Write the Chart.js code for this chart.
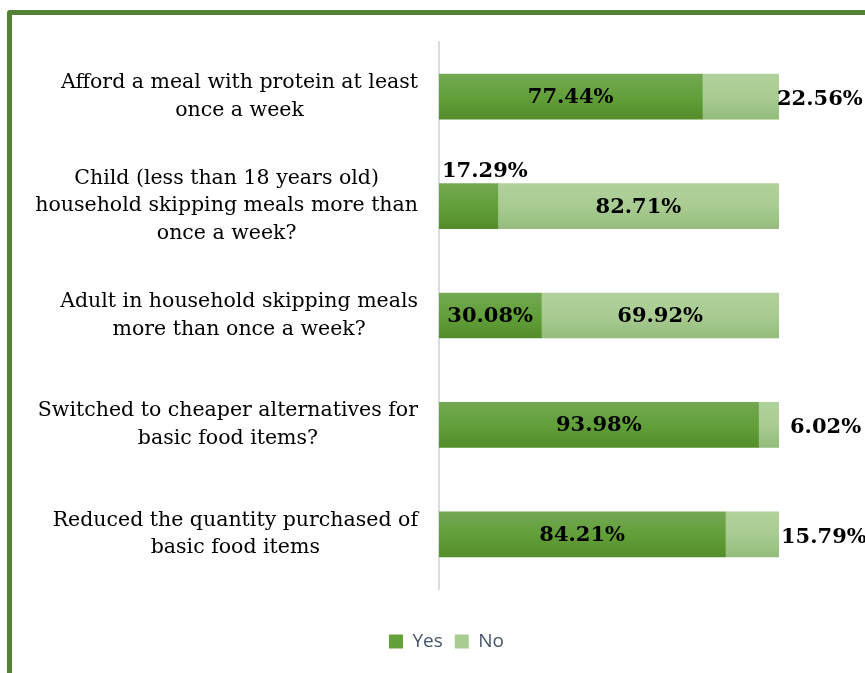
<!DOCTYPE html>
<html>
<head>
<meta charset="utf-8">
<script src="https://cdn.jsdelivr.net/npm/chart.js@4.4.1/dist/chart.umd.min.js"></script>
<style>
  html, body { margin: 0; padding: 0; background: #fff; }
  #wrap { position: relative; width: 865px; height: 673px; overflow: hidden; }
  /* green frame round the chart (only top and left fit on the page) */
  #frame {
    position: absolute; left: 7px; top: 10px; width: 900px; height: 700px;
    border: 5px solid #548235; border-radius: 3px; box-sizing: border-box;
  }
  #chart { position: absolute; left: 0; top: 0; }
</style>
</head>
<body>
<div id="wrap">
  <div id="frame"></div>
  <canvas id="chart" width="865" height="673"></canvas>
</div>
<script>
// categories, one per bar (each entry is the wrapped lines of the label)
const questions = [
  ["Afford a meal with protein at least", "once a week"],
  ["Child (less than 18 years old)", "household skipping meals more than", "once a week?"],
  ["Adult in household skipping meals", "more than once a week?"],
  ["Switched to cheaper alternatives for", "basic food items?"],
  ["Reduced the quantity purchased of", "basic food items"]
];

// share of households answering yes / no (%)
const yes_values = [77.44, 17.29, 30.08, 93.98, 84.21];
const no_values = [22.56, 82.71, 69.92, 6.02, 15.79];

// where each value label sits: "in" the bar, "above" it or "out" past its end
const yes_label_place = ["in", "above", "in", "in", "in"];
const no_label_place = ["out", "in", "in", "out", "out"];
const no_label_gap = [-2, 0, 0, 11, 2];

const yes_color = "#62a03a";
const no_color = "#a9cc92";

const label_font = "'DejaVu Serif', Georgia, serif";

// vertical shading on each bar, lighter at the top
function barGradient(top, mid, bottom) {
  return (context) => {
    const chart = context.chart;
    const yScale = chart.scales.y;
    if (!yScale || context.dataIndex === undefined) return mid;
    const meta = chart.getDatasetMeta(context.datasetIndex);
    const bar = meta.data[context.dataIndex];
    const half = bar && bar.height ? bar.height / 2 : 22.5;
    const cy = yScale.getPixelForValue(context.dataIndex);
    const g = chart.ctx.createLinearGradient(0, cy - half, 0, cy + half);
    g.addColorStop(0, top);
    g.addColorStop(0.5, mid);
    g.addColorStop(1, bottom);
    return g;
  };
}

// category labels: each block right aligned, its lines centred on each other
const categoryLabels = {
  id: "categoryLabels",
  afterDraw(chart) {
    const ctx = chart.ctx;
    const yScale = chart.scales.y;
    const right = chart.chartArea.left - 21;
    const lineHeight = 27.5;
    ctx.save();
    ctx.font = "20.5px " + label_font;
    ctx.fillStyle = "#000";
    ctx.textAlign = "center";
    ctx.textBaseline = "middle";
    questions.forEach((lines, i) => {
      const widest = Math.max(...lines.map((l) => ctx.measureText(l).width));
      const cx = right - widest / 2;
      const cy = yScale.getPixelForTick(i);
      const first = cy - ((lines.length - 1) * lineHeight) / 2;
      lines.forEach((l, j) => ctx.fillText(l, cx, first + j * lineHeight));
    });
    ctx.restore();
  }
};

// percentage labels on the bars
const valueLabels = {
  id: "valueLabels",
  afterDatasetsDraw(chart) {
    const ctx = chart.ctx;
    ctx.save();
    ctx.font = "bold 21px " + label_font;
    ctx.fillStyle = "#000";
    ctx.textBaseline = "middle";
    chart.data.datasets.forEach((ds, d) => {
      const meta = chart.getDatasetMeta(d);
      meta.data.forEach((bar, i) => {
        const text = ds.data[i].toFixed(2) + "%";
        const place = d === 0 ? yes_label_place[i] : no_label_place[i];
        const left = Math.min(bar.x, bar.base);
        const right = Math.max(bar.x, bar.base);
        if (place === "in") {
          ctx.textAlign = "center";
          ctx.fillText(text, (left + right) / 2, bar.y + 1);
        } else if (place === "above") {
          ctx.textAlign = "left";
          ctx.fillText(text, left + 3, bar.y - bar.height / 2 - 12);
        } else {
          ctx.textAlign = "left";
          ctx.fillText(text, right + no_label_gap[i], bar.y + 3);
        }
      });
    });
    ctx.restore();
  }
};

new Chart(document.getElementById("chart"), {
  type: "bar",
  data: {
    labels: questions,
    datasets: [
      {
        label: "Yes",
        data: yes_values,
        backgroundColor: barGradient("#74a853", yes_color, "#548d2a"),
        barThickness: 45
      },
      {
        label: "No",
        data: no_values,
        backgroundColor: barGradient("#b1d19c", no_color, "#94bb7c"),
        barThickness: 45
      }
    ]
  },
  options: {
    indexAxis: "y",
    responsive: false,
    animation: false,
    events: [],
    layout: { padding: { top: 42, right: 86, bottom: 12, left: 114 } },
    scales: {
      x: {
        stacked: true,
        min: 0,
        max: 100,
        ticks: { display: false },
        grid: { display: false },
        border: { display: false },
        afterFit: (scale) => { scale.height = 31; }
      },
      y: {
        stacked: true,
        ticks: { display: false },
        grid: { display: false, drawTicks: false },
        border: { display: true, color: "#d9dde3", width: 2 },
        afterFit: (scale) => { scale.width = 325; }
      }
    },
    plugins: {
      tooltip: { enabled: false },
      legend: {
        position: "bottom",
        labels: {
          boxWidth: 14,
          boxHeight: 14,
          padding: 12,
          color: "#44546a",
          font: { family: "'Open Sans', 'Liberation Sans', sans-serif", size: 19 },
          generateLabels: (chart) => chart.data.datasets.map((ds, i) => ({
            text: ds.label,
            fillStyle: i === 0 ? yes_color : no_color,
            strokeStyle: i === 0 ? yes_color : no_color,
            lineWidth: 0,
            fontColor: "#44546a",
            datasetIndex: i
          }))
        }
      }
    }
  },
  plugins: [categoryLabels, valueLabels]
});
</script>
</body>
</html>
